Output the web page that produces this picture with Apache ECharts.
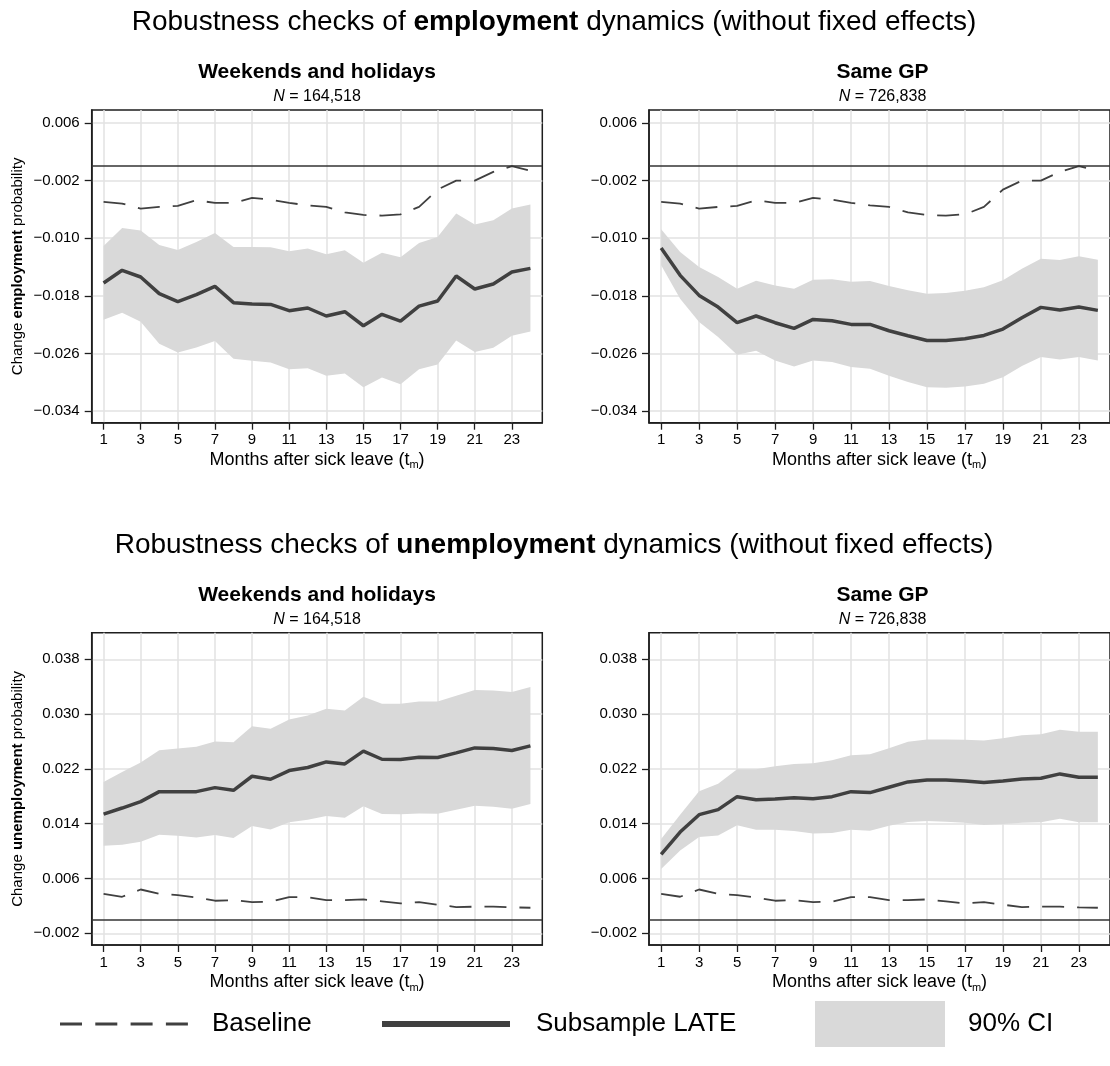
<!DOCTYPE html>
<html>
<head>
<meta charset="utf-8">
<script src="https://cdn.jsdelivr.net/npm/echarts@6/dist/echarts.min.js"></script>
<style>
  html, body { margin: 0; padding: 0; background: #ffffff; }
  #chart { width: 1110px; height: 1066px; }
</style>
</head>
<body>
<div id="chart"></div>
<script>
// ---- data ----
const months = [1, 2, 3, 4, 5, 6, 7, 8, 9, 10, 11, 12, 13, 14, 15, 16, 17, 18, 19, 20, 21, 22, 23, 24];
const monthTicks = [1, 3, 5, 7, 9, 11, 13, 15, 17, 19, 21, 23];
const empTicks = [-0.034, -0.026, -0.018, -0.010, -0.002, 0.006];
const unempTicks = [-0.002, 0.006, 0.014, 0.022, 0.030, 0.038];

// Employment: weekends and holidays subsample
const empWkLate = [-0.01622, -0.01446, -0.01539, -0.01770, -0.01881, -0.01784, -0.01669, -0.01895, -0.01914, -0.01919, -0.02006, -0.01969, -0.02080, -0.02020, -0.02215, -0.02057, -0.02150, -0.01942, -0.01872, -0.01525, -0.01706, -0.01636, -0.01470, -0.01419];
const empWkHi = [-0.01108, -0.00858, -0.00895, -0.01094, -0.01164, -0.01053, -0.00928, -0.01122, -0.01122, -0.01127, -0.01182, -0.01145, -0.01224, -0.01168, -0.01340, -0.01201, -0.01266, -0.01067, -0.00983, -0.00659, -0.00812, -0.00752, -0.00590, -0.00534];
const empWkLo = [-0.02131, -0.02034, -0.02159, -0.02465, -0.02585, -0.02516, -0.02428, -0.02673, -0.02701, -0.02724, -0.02817, -0.02803, -0.02909, -0.02877, -0.03067, -0.02932, -0.03025, -0.02817, -0.02752, -0.02419, -0.02580, -0.02520, -0.02354, -0.02294];

// Employment: same GP subsample
const empGpLate = [-0.01136, -0.01516, -0.01794, -0.01956, -0.02173, -0.02080, -0.02173, -0.02252, -0.02127, -0.02146, -0.02196, -0.02196, -0.02284, -0.02354, -0.02419, -0.02419, -0.02395, -0.02349, -0.02261, -0.02104, -0.01960, -0.01997, -0.01956, -0.02002];
const empGpHi = [-0.00877, -0.01192, -0.01400, -0.01539, -0.01701, -0.01590, -0.01655, -0.01701, -0.01576, -0.01571, -0.01604, -0.01594, -0.01664, -0.01724, -0.01770, -0.01761, -0.01729, -0.01682, -0.01585, -0.01423, -0.01284, -0.01303, -0.01252, -0.01298];
const empGpLo = [-0.01377, -0.01840, -0.02164, -0.02372, -0.02618, -0.02562, -0.02696, -0.02780, -0.02696, -0.02719, -0.02789, -0.02812, -0.02909, -0.02997, -0.03067, -0.03076, -0.03057, -0.03020, -0.02928, -0.02775, -0.02650, -0.02682, -0.02650, -0.02696];

// Employment: full-sample baseline estimate
const empBaseline = [-0.00497, -0.00520, -0.00590, -0.00567, -0.00553, -0.00474, -0.00511, -0.00511, -0.00442, -0.00465, -0.00511, -0.00544, -0.00567, -0.00641, -0.00678, -0.00687, -0.00669, -0.00567, -0.00326, -0.00201, -0.00201, -0.00080, -0.00002, -0.00063];

// Unemployment: weekends and holidays subsample
const unempWkLate = [0.01541, 0.01629, 0.01722, 0.01868, 0.01868, 0.01868, 0.01927, 0.01888, 0.02093, 0.02049, 0.02176, 0.02220, 0.02302, 0.02273, 0.02459, 0.02341, 0.02337, 0.02371, 0.02366, 0.02434, 0.02507, 0.02498, 0.02468, 0.02537];
const unempWkHi = [0.02010, 0.02156, 0.02293, 0.02473, 0.02498, 0.02522, 0.02600, 0.02590, 0.02824, 0.02785, 0.02922, 0.02980, 0.03078, 0.03054, 0.03254, 0.03151, 0.03151, 0.03185, 0.03185, 0.03268, 0.03351, 0.03346, 0.03322, 0.03395];
const unempWkLo = [0.01078, 0.01093, 0.01137, 0.01239, 0.01224, 0.01200, 0.01234, 0.01190, 0.01366, 0.01317, 0.01420, 0.01459, 0.01512, 0.01488, 0.01654, 0.01541, 0.01537, 0.01551, 0.01546, 0.01605, 0.01663, 0.01649, 0.01620, 0.01688];

// Unemployment: same GP subsample
const unempGpLate = [0.00951, 0.01278, 0.01532, 0.01605, 0.01795, 0.01751, 0.01761, 0.01780, 0.01766, 0.01795, 0.01868, 0.01854, 0.01932, 0.02010, 0.02039, 0.02039, 0.02024, 0.02000, 0.02024, 0.02054, 0.02063, 0.02127, 0.02078, 0.02078];
const unempGpHi = [0.01176, 0.01532, 0.01873, 0.01985, 0.02195, 0.02195, 0.02239, 0.02273, 0.02283, 0.02327, 0.02400, 0.02415, 0.02502, 0.02595, 0.02629, 0.02629, 0.02624, 0.02615, 0.02649, 0.02693, 0.02707, 0.02771, 0.02741, 0.02741];
const unempGpLo = [0.00741, 0.01010, 0.01205, 0.01229, 0.01376, 0.01312, 0.01312, 0.01293, 0.01259, 0.01263, 0.01312, 0.01298, 0.01371, 0.01424, 0.01439, 0.01429, 0.01415, 0.01381, 0.01395, 0.01415, 0.01420, 0.01473, 0.01420, 0.01420];

// Unemployment: full-sample baseline estimate
const unempBaseline = [0.00377, 0.00334, 0.00440, 0.00377, 0.00358, 0.00324, 0.00276, 0.00285, 0.00256, 0.00261, 0.00329, 0.00329, 0.00285, 0.00285, 0.00295, 0.00266, 0.00237, 0.00256, 0.00218, 0.00184, 0.00189, 0.00189, 0.00179, 0.00174];

// ---- styling / layout ----
const FONT = '"Liberation Sans", Arial, Helvetica, sans-serif';
const INK = '#1e1e1e';
const LINE = '#404040';
const BAND = '#d9d9d9';
const GRIDLINE = '#e2e2e2';

const panels = [
  { left: 91.7, top: 110,   width: 450.6, height: 312.7, ticks: empTicks,   min: -0.0356, max: 0.00778, late: empWkLate,   lo: empWkLo,   hi: empWkHi,   base: empBaseline,   yName: 'employment' },
  { left: 649,  top: 110,   width: 467,   height: 312.7, ticks: empTicks,   min: -0.0356, max: 0.00778, late: empGpLate,   lo: empGpLo,   hi: empGpHi,   base: empBaseline,   yName: null },
  { left: 91.7, top: 632.7, width: 450.6, height: 312.3, ticks: unempTicks, min: -0.0037, max: 0.04188, late: unempWkLate, lo: unempWkLo, hi: unempWkHi, base: unempBaseline, yName: 'unemployment' },
  { left: 649,  top: 632.7, width: 467,   height: 312.3, ticks: unempTicks, min: -0.0037, max: 0.04188, late: unempGpLate, lo: unempGpLo, hi: unempGpHi, base: unempBaseline, yName: null }
];

function fmtTick(v) {
  const s = Math.abs(v).toFixed(3);
  return v < -1e-9 ? '\u2212' + s : s;
}

const grids = [], xAxes = [], yAxes = [], series = [];

panels.forEach((p, i) => {
  grids.push({
    left: p.left, top: p.top, width: p.width, height: p.height,
    show: true, borderColor: INK, borderWidth: 1.5, backgroundColor: 'transparent'
  });

  xAxes.push({
    gridIndex: i, type: 'value', min: 0.36, max: 24.64,
    axisLine: { show: true, onZero: false, lineStyle: { color: INK, width: 1.5 } },
    axisTick: { show: true, customValues: monthTicks, length: 7, lineStyle: { color: INK, width: 1.3 } },
    axisLabel: { customValues: monthTicks, fontSize: 15, fontFamily: FONT, color: '#000', margin: 10 },
    splitLine: { show: true, lineStyle: { color: GRIDLINE, width: 1.5 } },
    name: '{a|Months after sick leave (t}{s|m}{a|)}',
    nameLocation: 'middle', nameGap: 26,
    nameTextStyle: {
      rich: {
        a: { fontSize: 18, fontFamily: FONT, color: '#000', lineHeight: 22 },
        s: { fontSize: 11, fontFamily: FONT, color: '#000', lineHeight: 11, verticalAlign: 'bottom' }
      }
    }
  });

  const yAxis = {
    gridIndex: i, type: 'value', min: p.min, max: p.max,
    axisLine: { show: true, onZero: false, lineStyle: { color: INK, width: 1.5 } },
    axisTick: { show: true, customValues: p.ticks, length: 7, lineStyle: { color: INK, width: 1.3 } },
    axisLabel: { customValues: p.ticks, fontSize: 15, fontFamily: FONT, color: '#000', margin: 12, formatter: fmtTick },
    splitLine: { show: true, lineStyle: { color: GRIDLINE, width: 1.5 } }
  };
  if (p.yName) {
    yAxis.name = '{a|Change }{b|' + p.yName + '}{a| probability}';
    yAxis.nameLocation = 'middle';
    yAxis.nameRotate = 90;
    yAxis.nameGap = 66;
    yAxis.nameTextStyle = {
      rich: {
        a: { fontSize: 15, fontFamily: FONT, color: '#000' },
        b: { fontSize: 15, fontFamily: FONT, color: '#000', fontWeight: 'bold' }
      }
    };
  }
  yAxes.push(yAxis);

  // 90% confidence band as one polygon through the axis scales
  series.push({
    type: 'custom', xAxisIndex: i, yAxisIndex: i, silent: true, z: 1,
    data: [[months[0], p.lo[0]]],
    renderItem: (params, api) => {
      const pts = [];
      months.forEach((m, k) => pts.push(api.coord([m, p.hi[k]])));
      for (let k = months.length - 1; k >= 0; k--) pts.push(api.coord([months[k], p.lo[k]]));
      return { type: 'polygon', shape: { points: pts }, style: { fill: BAND } };
    }
  });

  // Baseline estimate (dashed) with the zero reference line
  series.push({
    type: 'line', xAxisIndex: i, yAxisIndex: i, silent: true, z: 3,
    symbol: 'none', smooth: false,
    data: months.map((m, k) => [m, p.base[k]]),
    lineStyle: { color: LINE, width: 1.8, type: [22, 13] },
    markLine: {
      silent: true, symbol: ['none', 'none'], label: { show: false },
      lineStyle: { color: '#333333', width: 1.5, type: 'solid' },
      data: [{ yAxis: 0 }]
    }
  });

  // Subsample LATE
  series.push({
    type: 'line', xAxisIndex: i, yAxisIndex: i, silent: true, z: 4,
    symbol: 'none',
    data: months.map((m, k) => [m, p.late[k]]),
    lineStyle: { color: LINE, width: 3.5 }
  });
});

// ---- titles, subtitles and legend ----
function titleText(word, y) {
  return {
    type: 'text', x: 554, y: y, silent: true,
    style: {
      text: '{a|Robustness checks of }{b|' + word + '}{a| dynamics (without fixed effects)}',
      align: 'center', verticalAlign: 'middle',
      rich: {
        a: { fontSize: 28, fontFamily: FONT, fill: '#000' },
        b: { fontSize: 28, fontFamily: FONT, fill: '#000', fontWeight: 'bold' }
      }
    }
  };
}
function panelTitle(text, x, y) {
  return {
    type: 'text', x: x, y: y, silent: true,
    style: { text: text, align: 'center', verticalAlign: 'middle', fontSize: 21, fontWeight: 'bold', fontFamily: FONT, fill: '#000' }
  };
}
function nText(num, x, y) {
  return {
    type: 'text', x: x, y: y, silent: true,
    style: {
      text: '{i|N}{a| = ' + num + '}',
      align: 'center', verticalAlign: 'middle',
      rich: {
        i: { fontSize: 16, fontFamily: FONT, fill: '#000', fontStyle: 'italic' },
        a: { fontSize: 16, fontFamily: FONT, fill: '#000' }
      }
    }
  };
}

const cxL = 91.7 + 450.6 / 2;
const cxR = 649 + 467 / 2;
const legendY = 1024;

const graphics = [
  titleText('employment', 22),
  titleText('unemployment', 545),
  panelTitle('Weekends and holidays', cxL, 72),
  panelTitle('Same GP', cxR, 72),
  nText('164,518', cxL, 97),
  nText('726,838', cxR, 97),
  panelTitle('Weekends and holidays', cxL, 595),
  panelTitle('Same GP', cxR, 595),
  nText('164,518', cxL, 620),
  nText('726,838', cxR, 620),
  // legend keys
  { type: 'line', silent: true, shape: { x1: 60, y1: legendY, x2: 188, y2: legendY },
    style: { stroke: LINE, lineWidth: 3, lineDash: [22, 13.3] } },
  { type: 'text', x: 212, y: legendY, silent: true,
    style: { text: 'Baseline', align: 'left', verticalAlign: 'middle', fontSize: 26, fontFamily: FONT, fill: '#000' } },
  { type: 'line', silent: true, shape: { x1: 382, y1: legendY, x2: 510, y2: legendY },
    style: { stroke: LINE, lineWidth: 6 } },
  { type: 'text', x: 536, y: legendY, silent: true,
    style: { text: 'Subsample LATE', align: 'left', verticalAlign: 'middle', fontSize: 26, fontFamily: FONT, fill: '#000' } },
  { type: 'rect', silent: true, shape: { x: 815, y: legendY - 23, width: 130, height: 46 },
    style: { fill: BAND } },
  { type: 'text', x: 968, y: legendY, silent: true,
    style: { text: '90% CI', align: 'left', verticalAlign: 'middle', fontSize: 26, fontFamily: FONT, fill: '#000' } }
];

const chart = echarts.init(document.getElementById('chart'), null, { renderer: 'canvas' });
chart.setOption({
  animation: false,
  backgroundColor: '#ffffff',
  grid: grids,
  xAxis: xAxes,
  yAxis: yAxes,
  series: series,
  graphic: graphics
});
</script>
</body>
</html>
